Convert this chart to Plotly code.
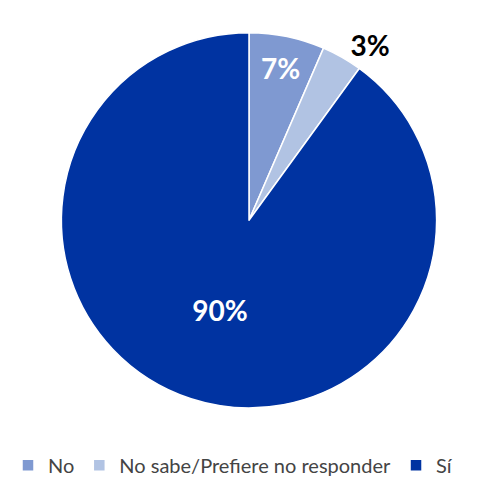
import plotly.graph_objects as go

labels = ["No", "No sabe/Prefiere no responder", "Sí"]
values = [6.5, 3.5, 90]
text_labels = ["7%", "3%", "90%"]
colors = ["#7f99d1", "#b1c3e3", "#0033a1"]

W, H = 492, 477

fig = go.Figure(go.Pie(
    labels=labels,
    values=values,
    text=text_labels,
    textinfo="text",
    sort=False,
    direction="clockwise",
    rotation=0,
    marker=dict(colors=colors, line=dict(color="white", width=1.5)),
    textposition=["inside", "outside", "inside"],
    insidetextfont=dict(color="white", size=28, family="Lato", weight="bold"),
    outsidetextfont=dict(color="black", size=28, family="Lato", weight="bold"),
    insidetextorientation="horizontal",
    hoverinfo="label+percent",
    domain=dict(x=[51 / W, 431 / W], y=[(H - 405) / H, (H - 25) / H]),
))

fig.update_layout(
    width=W, height=H,
    margin=dict(l=0, r=0, t=0, b=0),
    paper_bgcolor="white",
    plot_bgcolor="white",
    font=dict(family="Lato", size=20, color="#333333"),
    showlegend=True,
    legend=dict(
        orientation="h",
        x=0, xanchor="left",
        y=14 / H, yanchor="middle",
        font=dict(size=20, color="#444444", family="Lato"),
        tracegroupgap=0,
    ),
)

fig.write_html("out.html")
